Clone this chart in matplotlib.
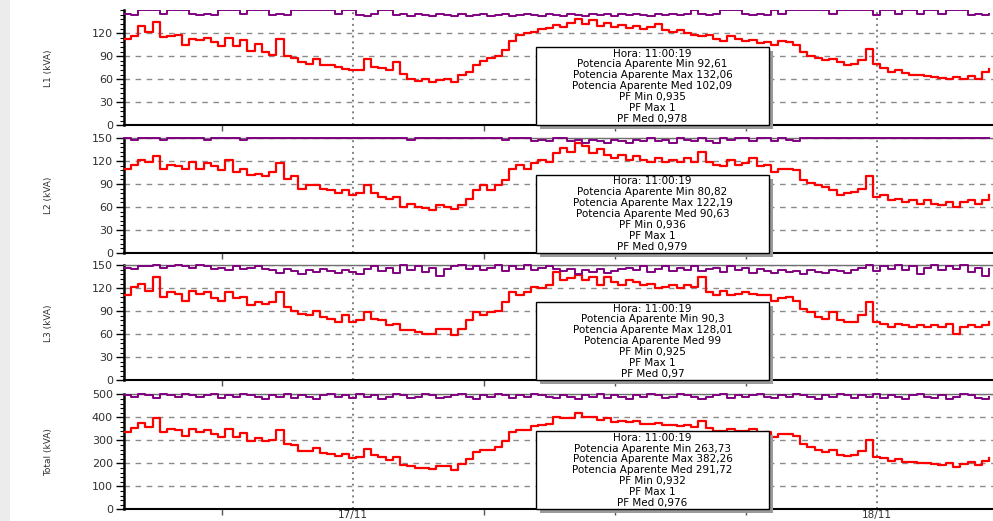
import numpy as np
import pandas as pd
import matplotlib
matplotlib.use('Agg')
import matplotlib.pyplot as plt
import matplotlib.dates as mdates
from matplotlib.ticker import AutoMinorLocator, FixedLocator
from matplotlib.patches import Rectangle

# ---------------- data ----------------
start_time = '2014-11-16 13:30'
n_points = 120
step = '20min'

L1 = [113, 117, 129, 122, 135, 115, 117, 118, 105, 113,
      111, 114, 108, 104, 114, 103, 111, 97, 106, 95,
      92, 113, 90, 88, 82, 80, 87, 79, 78, 76,
      73, 72, 72, 86, 76, 75, 72, 82, 67, 61,
      58, 60, 57, 59, 60, 56, 66, 70, 78, 84,
      88, 90, 98, 110, 118, 120, 122, 126, 127, 131,
      128, 133, 138, 132, 137, 130, 134, 128, 131, 127,
      130, 126, 128, 132, 124, 122, 124, 120, 118, 116,
      118, 113, 110, 116, 112, 110, 111, 107, 108, 105,
      110, 108, 105, 95, 90, 88, 85, 87, 82, 78,
      80, 85, 100, 80, 75, 70, 72, 68, 66, 65,
      64, 63, 62, 60, 63, 61, 64, 60, 70, 73]

L2 = [110, 115, 121, 119, 127, 110, 115, 113, 110, 119,
      110, 117, 113, 108, 121, 106, 110, 102, 103, 100,
      106, 117, 97, 100, 84, 89, 89, 84, 82, 78,
      82, 75, 78, 89, 78, 73, 71, 73, 60, 64,
      60, 59, 56, 62, 60, 58, 62, 71, 82, 89,
      82, 89, 95, 110, 115, 110, 117, 121, 119, 130,
      137, 132, 143, 139, 130, 135, 128, 124, 128, 121,
      126, 121, 119, 124, 119, 121, 119, 124, 119, 132,
      119, 115, 113, 121, 115, 117, 124, 113, 115, 106,
      110, 110, 108, 95, 91, 89, 86, 82, 75, 78,
      80, 84, 100, 73, 75, 69, 71, 67, 69, 64,
      69, 64, 62, 67, 60, 67, 69, 64, 69, 75]

L3 = [111, 122, 126, 117, 135, 109, 115, 113, 104, 117,
      113, 115, 107, 104, 115, 107, 109, 98, 102, 100,
      102, 115, 96, 91, 87, 85, 91, 83, 80, 76,
      85, 76, 78, 89, 80, 78, 72, 74, 65, 65,
      63, 61, 61, 67, 67, 59, 67, 78, 89, 85,
      89, 91, 102, 115, 111, 115, 122, 120, 124, 141,
      131, 133, 137, 131, 135, 124, 135, 128, 124, 131,
      128, 124, 126, 120, 122, 124, 120, 124, 122, 135,
      115, 111, 117, 111, 113, 115, 113, 111, 111, 104,
      107, 109, 104, 93, 89, 83, 80, 89, 78, 76,
      76, 85, 102, 76, 74, 69, 74, 72, 69, 72,
      69, 72, 69, 74, 61, 69, 72, 69, 72, 76]

PF1 = [.97, .96, 1, 1, 1, .97, 1, 1, 1, .97,
       .96, .97, .96, 1, 1, 1, .97, 1, 1, 1,
       .96, .97, .96, 1, 1, 1, 1, 1, 1, .97,
       1, 1, .96, .95, .97, 1, 1, .96, .97, .95,
       .97, .96, .95, .97, .96, .95, .97, .95, .96, .97,
       .95, .96, .97, .95, .96, .97, .96, .95, .97, .96,
       .95, .97, .96, .95, .97, .96, .97, .95, .97, .96,
       .97, .96, .95, .97, .96, .97, .96, .97, 1, .97,
       .96, .97, 1, 1, 1, .97, .96, .97, .96, 1,
       .97, 1, 1, 1, 1, 1, 1, .97, 1, 1,
       1, 1, 1, .96, 1, 1, .97, 1, 1, .97,
       1, 1, .97, 1, 1, 1, .96, .97, .96, .97]

PF2 = [1, .98, 1, 1, 1, .98, 1, 1, 1, 1,
       1, .98, 1, 1, 1, 1, .98, 1, 1, 1,
       1, 1, 1, 1, 1, 1, 1, 1, 1, 1,
       1, 1, 1, 1, 1, 1, 1, 1, 1, .98,
       1, 1, 1, 1, 1, 1, 1, 1, 1, 1,
       1, 1, .98, 1, 1, 1, .97, .98, .97, 1,
       1, .97, .98, .96, .98, .97, .96, .98, .97, .96,
       .98, .97, 1, .97, .98, .96, 1, .98, .97, 1,
       .97, .96, 1, .98, 1, 1, .97, 1, 1, .97,
       1, .98, .97, 1, 1, 1, 1, 1, 1, 1,
       1, 1, 1, 1, 1, 1, 1, 1, 1, 1,
       1, 1, 1, 1, 1, 1, 1, 1, 1, 1]

PF3 = [.98, .97, .99, .99, 1, .98, .99, 1, .99, .98,
       1, .99, .97, .98, .96, .99, .97, .98, .99, .97,
       .96, .93, .97, .95, .92, .96, .94, .97, .95, .93,
       .96, .94, .92, .97, .99, .95, .98, .93, 1, .96,
       .99, .94, .98, .91, .97, .99, 1, .97, .99, .96,
       .98, 1, .95, .99, .97, 1, .96, .98, .99, .97,
       .95, .97, .92, .96, .94, .97, .93, .95, .97, .98,
       .96, .99, .94, .97, .99, .95, .98, .96, .99, .95,
       .97, .98, .94, .99, .96, .98, .93, .97, .95, .93,
       .96, .94, .95, .92, .96, .94, .93, .96, .95, .93,
       .96, .98, 1, .95, .99, .97, 1, .96, .99, .92,
       .98, 1, .96, .99, .97, 1, .94, .98, .91, .97]

PF4 = [.99, .98, 1, .99, .97, 1, .99, .98, 1, .99,
       .98, .99, 1, .97, .99, .98, 1, .99, .98, .96,
       .99, .98, 1, .97, .99, .98, .96, .99, 1, .98,
       .99, .97, 1, .98, .99, .96, .98, 1, .99, .97,
       .98, 1, .99, .97, .98, .99, 1, .98, .96, .99,
       .98, 1, .99, .97, .99, .98, 1, .99, .98, .97,
       .99, .98, .96, .99, .98, 1, .97, .99, .98, .96,
       .99, .98, 1, .99, .97, .98, 1, .99, .98, .96,
       .98, .99, 1, .97, .99, .98, .99, 1, .98, .97,
       .99, .98, 1, .99, .98, .96, .99, .98, 1, .99,
       .97, .99, .98, 1, .97, .99, .98, .96, .99, 1,
       .98, .97, .99, .96, .98, 1, .99, .97, .96, .98]

panel_labels = ['L1 (kVA)', 'L2 (kVA)', 'L3 (kVA)', 'Total (kVA)']
panel_ymax = [150, 150, 150, 500]
panel_ystep = [30, 30, 30, 100]

tooltip_hour = 'Hora: 11:00:19'
tip_min = ['92,61', '80,82', '90,3', '263,73']
tip_max = ['132,06', '122,19', '128,01', '382,26']
tip_med = ['102,09', '90,63', '99', '291,72']
tip_pfmin = ['0,935', '0,936', '0,925', '0,932']
tip_pfmax = ['1', '1', '1', '1']
tip_pfmed = ['0,978', '0,979', '0,97', '0,976']

# ---------------- figure ----------------
W, H = 993, 521
fig = plt.figure(figsize=(W / 100, H / 100), dpi=100)
fig.patch.set_facecolor('white')

# light window stripe on the left
fig.add_artist(Rectangle((0, 0), 10 / W, 1, transform=fig.transFigure,
                         facecolor='#ececec', edgecolor='none', zorder=0))

times = pd.date_range(start_time, periods=n_points, freq=step)
total = np.array(L1) + np.array(L2) + np.array(L3)
series = [np.array(L1), np.array(L2), np.array(L3), total]
pfs = [np.array(PF1), np.array(PF2), np.array(PF3), np.array(PF4)]

x_left = pd.Timestamp('2014-11-16 13:31')
x_right = pd.Timestamp('2014-11-18 05:20')

ax_left_px = 124
tops_px = [10.3, 138.0, 265.3, 394.3]
ax_h_px = 115.0
ax_w_px = W - ax_left_px

box_x0 = (536 - ax_left_px) / ax_w_px
box_x1 = (769 - ax_left_px) / ax_w_px
box_h_px = 78.0
line_offsets_px = [6.3, 17.2, 28.1, 39.0, 49.9, 60.8, 71.7]

tick_color = '#303030'

for k in range(4):
    top = tops_px[k]
    ax = fig.add_axes([ax_left_px / W, 1 - (top + ax_h_px) / H,
                       ax_w_px / W, ax_h_px / H])
    ymax = panel_ymax[k]
    ax.plot(times, series[k], drawstyle='steps-post', color='#ff0000',
            lw=1.6, zorder=3)
    ax.plot(times, pfs[k] * ymax, drawstyle='steps-post', color='#800080',
            lw=1.4, zorder=4, clip_on=(k == 0))
    ax.set_xlim(x_left, x_right)
    ax.set_ylim(0, ymax)

    st = panel_ystep[k]
    if k == 0:
        majors = list(range(0, ymax, st))
    else:
        majors = list(range(0, ymax + 1, st))
    ax.yaxis.set_major_locator(FixedLocator(majors))
    ax.yaxis.set_minor_locator(AutoMinorLocator(5))
    ax.xaxis.set_major_locator(mdates.DayLocator())
    ax.xaxis.set_minor_locator(mdates.HourLocator(byhour=[6, 12, 18]))
    ax.xaxis.set_major_formatter(mdates.DateFormatter('%d/%m'))

    ax.grid(axis='y', which='major', linestyle=(0, (4, 4)), color='#8a8a8a', lw=1.0)
    ax.grid(axis='x', which='major', linestyle=(0, (1, 2)), color='#808080', lw=1.4)
    ax.set_axisbelow(True)

    ax.tick_params(axis='y', which='major', length=6, width=1, colors='black',
                   labelcolor=tick_color, labelsize=8, pad=2)
    ax.tick_params(axis='y', which='minor', length=3, width=0.8, colors='black')
    ax.tick_params(axis='x', which='minor', length=4, width=1, colors='#555555')
    ax.tick_params(axis='x', which='major', length=0, labelcolor=tick_color,
                   labelsize=7.5, pad=0.6)
    if k < 3:
        ax.tick_params(axis='x', labelbottom=False)

    ax.spines['left'].set_linewidth(1.8)
    ax.spines['left'].set_color('black')
    ax.spines['bottom'].set_linewidth(1.5)
    ax.spines['bottom'].set_color('black')
    ax.spines['right'].set_visible(False)
    if k == 0:
        ax.spines['top'].set_visible(False)
    else:
        ax.spines['top'].set_color('#707070')
        ax.spines['top'].set_linewidth(1.0)

    ax.set_ylabel(panel_labels[k], fontsize=6.5, color=tick_color)
    ax.yaxis.set_label_coords(-0.082, 0.5)

    # tooltip box with shadow
    bh = box_h_px / ax_h_px
    sdx = 4 / ax_w_px
    sdy = 4 / ax_h_px
    ax.add_patch(Rectangle((box_x0 + sdx, -sdy), box_x1 - box_x0, bh,
                           transform=ax.transAxes, facecolor='#9a9a9a',
                           edgecolor='none', zorder=9, clip_on=False))
    ax.add_patch(Rectangle((box_x0, 0), box_x1 - box_x0, bh,
                           transform=ax.transAxes, facecolor='white',
                           edgecolor='black', lw=1.0, zorder=10, clip_on=False))
    lines = [tooltip_hour,
             'Potencia Aparente Min ' + tip_min[k],
             'Potencia Aparente Max ' + tip_max[k],
             'Potencia Aparente Med ' + tip_med[k],
             'PF Min ' + tip_pfmin[k],
             'PF Max ' + tip_pfmax[k],
             'PF Med ' + tip_pfmed[k]]
    cx = (box_x0 + box_x1) / 2
    for off, txt in zip(line_offsets_px, lines):
        ax.text(cx, (box_h_px - off) / ax_h_px, txt, transform=ax.transAxes,
                ha='center', va='center', fontsize=7.5, color='black', zorder=11)

fig.savefig('out.png', dpi=100)
